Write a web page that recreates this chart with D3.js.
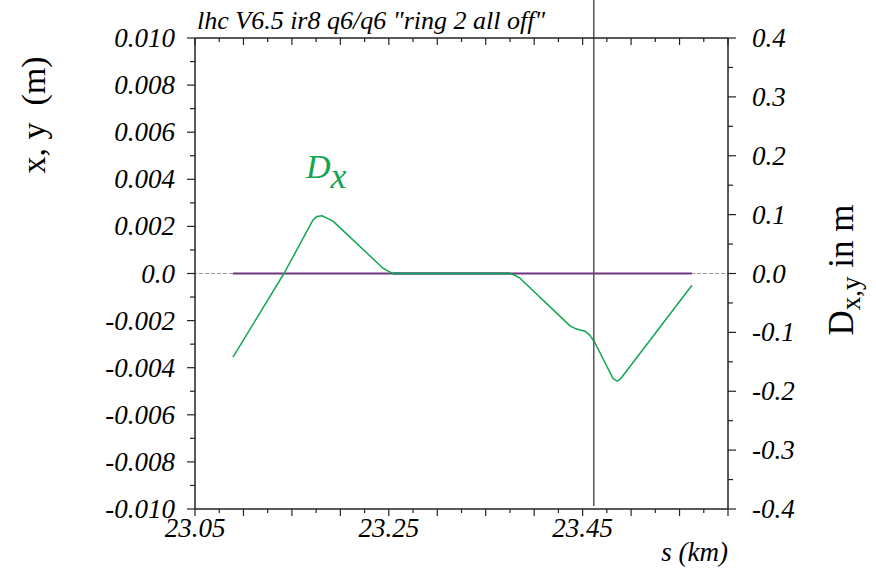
<!DOCTYPE html>
<html lang="en">
<head>
  <meta charset="UTF-8">
  <title>lhc V6.5 ir8</title>
  <script src="https://cdnjs.cloudflare.com/ajax/libs/d3/7.8.5/d3.min.js"></script>
  <style>
    body { margin: 0; background: #fff; }
    text { font-family: "Liberation Serif", "Times New Roman", serif; }
  </style>
</head>
<body>
<div id="chart"></div>
<script>
// s positions (km) and horizontal dispersion Dx (m)
var dxS = [23.0892, 23.1418, 23.1718, 23.1759, 23.1810, 23.1862, 23.1924, 23.2440, 23.2492, 23.2543,
           23.3750, 23.3800, 23.3854, 23.4370, 23.4431, 23.4473, 23.4524, 23.4576, 23.4628, 23.4813,
           23.4855, 23.4896, 23.5628];
var dxVal = [-0.142, 0.000, 0.091, 0.097, 0.098, 0.094, 0.089, 0.009, 0.004, 0.000,
             0.000, -0.003, -0.008, -0.089, -0.094, -0.096, -0.098, -0.105, -0.118, -0.178,
             -0.183, -0.178, -0.020];

// closed orbit x, y (m) - flat at zero
var orbitS = [23.0892, 23.2543, 23.3750, 23.5628];
var orbitX = [0, 0, 0, 0];
var orbitY = [null, 0, 0, null];

var markerS = 23.4615;

var sLabelTicks = [23.05, 23.25, 23.45];
var leftTicks = [0.010, 0.008, 0.006, 0.004, 0.002, 0, -0.002, -0.004, -0.006, -0.008, -0.010];
var leftLabels = ["0.010", "0.008", "0.006", "0.004", "0.002", "0.0", "-0.002", "-0.004", "-0.006", "-0.008", "-0.010"];
var rightTicks = [0.4, 0.3, 0.2, 0.1, 0, -0.1, -0.2, -0.3, -0.4];
var rightLabels = ["0.4", "0.3", "0.2", "0.1", "0.0", "-0.1", "-0.2", "-0.3", "-0.4"];

var title = 'lhc V6.5 ir8 q6/q6 "ring 2 all off"';

var W = 876, H = 570;
var L = 195, R = 728, T = 38, B = 509;

var svg = d3.select("#chart").append("svg")
    .attr("width", W)
    .attr("height", H);

var x = d3.scaleLinear().domain([23.05, 23.60]).range([L, R]);
var yL = d3.scaleLinear().domain([-0.010, 0.010]).range([B, T]);
var yR = d3.scaleLinear().domain([-0.4, 0.4]).range([B, T]);

// zero reference, dashed
svg.append("line")
    .attr("x1", L - 8).attr("x2", R)
    .attr("y1", yL(0)).attr("y2", yL(0))
    .style("stroke", "#9a9a9a")
    .style("stroke-width", 1.2)
    .style("stroke-dasharray", "4,2");

var orbitLine = d3.line()
    .defined(function(d) { return d[1] !== null; })
    .x(function(d) { return x(d[0]); })
    .y(function(d) { return yL(d[1]); });

svg.append("path")
    .datum(orbitS.map(function(s, i) { return [s, orbitX[i]]; }))
    .attr("d", orbitLine)
    .style("fill", "none")
    .style("stroke", "#6e3580")
    .style("stroke-width", 2);

svg.append("path")
    .datum(orbitS.map(function(s, i) { return [s, orbitY[i]]; }))
    .attr("d", orbitLine)
    .style("fill", "none")
    .style("stroke", "#3c4f86")
    .style("stroke-width", 2);

// Dx curve
var dxLine = d3.line()
    .x(function(d) { return x(d[0]); })
    .y(function(d) { return yR(d[1]); });

svg.append("path")
    .datum(dxS.map(function(s, i) { return [s, dxVal[i]]; }))
    .attr("d", dxLine)
    .style("fill", "none")
    .style("stroke", "#12a552")
    .style("stroke-width", 1.5)
    .style("stroke-linejoin", "round");

// marker line
svg.append("line")
    .attr("x1", x(markerS)).attr("x2", x(markerS))
    .attr("y1", 0).attr("y2", B - 3)
    .style("stroke", "#555")
    .style("stroke-width", 1.5);

// frame
var frame = svg.append("g").style("stroke", "#222").style("stroke-width", 1.5);
frame.append("line").attr("x1", L).attr("x2", R).attr("y1", T).attr("y2", T);
frame.append("line").attr("x1", L).attr("x2", R).attr("y1", B).attr("y2", B);
frame.append("line").attr("x1", L).attr("x2", L).attr("y1", T).attr("y2", B);
frame.append("line").attr("x1", R).attr("x2", R).attr("y1", T).attr("y2", B);

// s ticks (every 0.025 km), top inward, bottom outward
var sTicks = d3.range(0, 23).map(function(i) { return 23.05 + i * 0.025; });
sTicks.forEach(function(s, i) {
    var len = i % 2 === 0 ? 7 : 4;
    frame.append("line").attr("x1", x(s)).attr("x2", x(s)).attr("y1", B).attr("y2", B + len).style("stroke-width", 1.2);
    frame.append("line").attr("x1", x(s)).attr("x2", x(s)).attr("y1", T).attr("y2", T + len).style("stroke-width", 1.2);
});

// left ticks
d3.range(0, 21).forEach(function(i) {
    var v = -0.010 + i * 0.001;
    var len = i % 2 === 0 ? 8 : 5;
    frame.append("line").attr("x1", L - len).attr("x2", L).attr("y1", yL(v)).attr("y2", yL(v)).style("stroke-width", 1.2);
});

// right ticks
d3.range(0, 17).forEach(function(i) {
    var v = -0.4 + i * 0.05;
    var len = i % 2 === 0 ? 8 : 5;
    frame.append("line").attr("x1", R).attr("x2", R + len).attr("y1", yR(v)).attr("y2", yR(v)).style("stroke-width", 1.2);
});

// tick labels
svg.selectAll(".lbl-left")
    .data(leftTicks)
    .enter().append("text")
    .attr("x", L - 20)
    .attr("y", function(d) { return yL(d) + 9; })
    .attr("text-anchor", "end")
    .style("font-size", "27px")
    .style("font-style", "italic")
    .text(function(d, i) { return leftLabels[i]; });

svg.selectAll(".lbl-right")
    .data(rightTicks)
    .enter().append("text")
    .attr("x", R + 24)
    .attr("y", function(d) { return yR(d) + 9; })
    .style("font-size", "27px")
    .style("font-style", "italic")
    .text(function(d, i) { return rightLabels[i]; });

svg.selectAll(".lbl-s")
    .data(sLabelTicks)
    .enter().append("text")
    .attr("x", function(d) { return x(d); })
    .attr("y", 537)
    .attr("text-anchor", "middle")
    .style("font-size", "27px")
    .style("font-style", "italic")
    .text(function(d) { return d.toFixed(2); });

// titles
svg.append("text")
    .attr("x", L + 2)
    .attr("y", 29)
    .style("font-size", "26px")
    .style("font-style", "italic")
    .text(title);

svg.append("text")
    .attr("x", R)
    .attr("y", 561)
    .attr("text-anchor", "end")
    .style("font-size", "27px")
    .style("font-style", "italic")
    .text("s (km)");

svg.append("text")
    .attr("transform", "translate(45,115) rotate(-90)")
    .attr("text-anchor", "middle")
    .style("font-size", "34px")
    .style("white-space", "pre")
    .text("x, y  (m)");

var rt = svg.append("text")
    .attr("transform", "translate(853,270) rotate(-90)")
    .attr("text-anchor", "middle")
    .style("font-size", "35px");
rt.append("tspan").text("D");
rt.append("tspan").attr("dy", 7).style("font-size", "27px").text("x,y");
rt.append("tspan").attr("dy", -7).text(" in m");

var dl = svg.append("text")
    .attr("x", 306)
    .attr("y", 178)
    .style("fill", "#12a552")
    .style("font-style", "italic")
    .style("font-size", "34px");
dl.append("tspan").text("D");
dl.append("tspan").attr("dy", 10).style("font-size", "36px").text("x");
</script>
</body>
</html>
